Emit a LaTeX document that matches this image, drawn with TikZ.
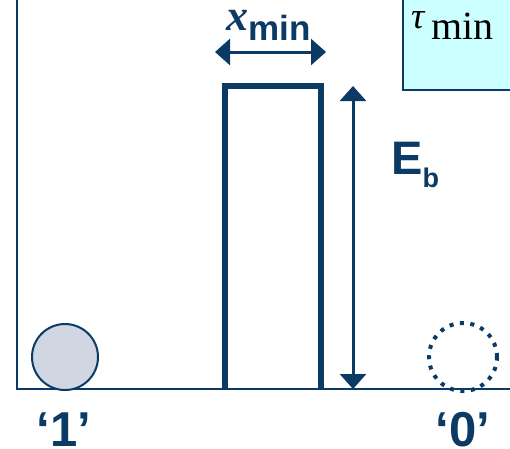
\documentclass[tikz,border=0pt]{standalone}
\usepackage{fontspec}
\setsansfont{Liberation Sans}
\newfontfamily\serifrm{Liberation Serif}
\usetikzlibrary{positioning,arrows.meta}
\definecolor{navy}{HTML}{0B3A64}
\definecolor{ballfill}{HTML}{D0D7E3}
\definecolor{boxfill}{HTML}{CCFFFF}
\tikzset{
  wall/.style={navy,line width=2pt},
  barrier/.style={navy,line width=6pt},
  dimarrow/.style={navy,line width=3pt,{Triangle[length=15pt,width=26pt]}-{Triangle[length=15pt,width=26pt]}},
  bitlabel/.style={text=navy,inner sep=0pt,font=\sffamily\bfseries\fontsize{49}{49}\selectfont},
  ball/.style={circle,minimum size=66pt,inner sep=0pt,line width=2pt,draw=navy},
}
\begin{document}
\begin{tikzpicture}[x=1pt,y=-1pt]
        \useasboundingbox (0,0) rectangle (510,448);
        \filldraw[draw=navy,line width=2pt,fill=boxfill] (403,-5) rectangle (515,90);
        \node[anchor=base west,inner sep=0pt] (taulab) at (411,28){\serifrm\fontsize{37}{37}\selectfont\itshape τ\upshape\fontsize{40}{40}\selectfont\,\raisebox{-11pt}{min}};
        \coordinate (top) at (17,0);
        \coordinate (origin) at (17,389);
        \coordinate (right) at (510,389);
        \draw[wall] (top)--(origin)--(right);
        \draw[barrier] (225,389) |- (321,86) -- (321,389);
        \coordinate (xl) at (215,52);
        \coordinate (xr) at (326,52);
        \draw[dimarrow] (xl)--(xr);
        \node[anchor=base west,inner sep=0pt,text=navy] (xlab) at (226,30){\serifrm\bfseries\itshape\fontsize{44}{44}\selectfont x\raisebox{-10pt}{\sffamily\upshape\bfseries\fontsize{35}{35}\selectfont min}};
        \coordinate (ebtop) at (353,86);
        \coordinate (ebbot) at (353,389);
        \draw[dimarrow] (ebtop)--(ebbot);
        \node[anchor=base west,inner sep=0pt,text=navy] (eblab) at (391,174){\sffamily\bfseries\fontsize{47}{47}\selectfont E\raisebox{-13pt}{\fontsize{27}{27}\selectfont b}};
        \node[ball,fill=ballfill] (one) at (65,357){};
        \node[ball,draw=none] (zero) at (463,357){};
        \draw[navy,line width=4pt,dash pattern=on 4pt off 6.5pt] (zero) circle[radius=34pt];
        \node[bitlabel,anchor=base] (onelab) at (64,446){‘1’};
        \node[bitlabel,anchor=base] (zerolab) at (463,446){‘0’};
      \end{tikzpicture}
\end{document}
